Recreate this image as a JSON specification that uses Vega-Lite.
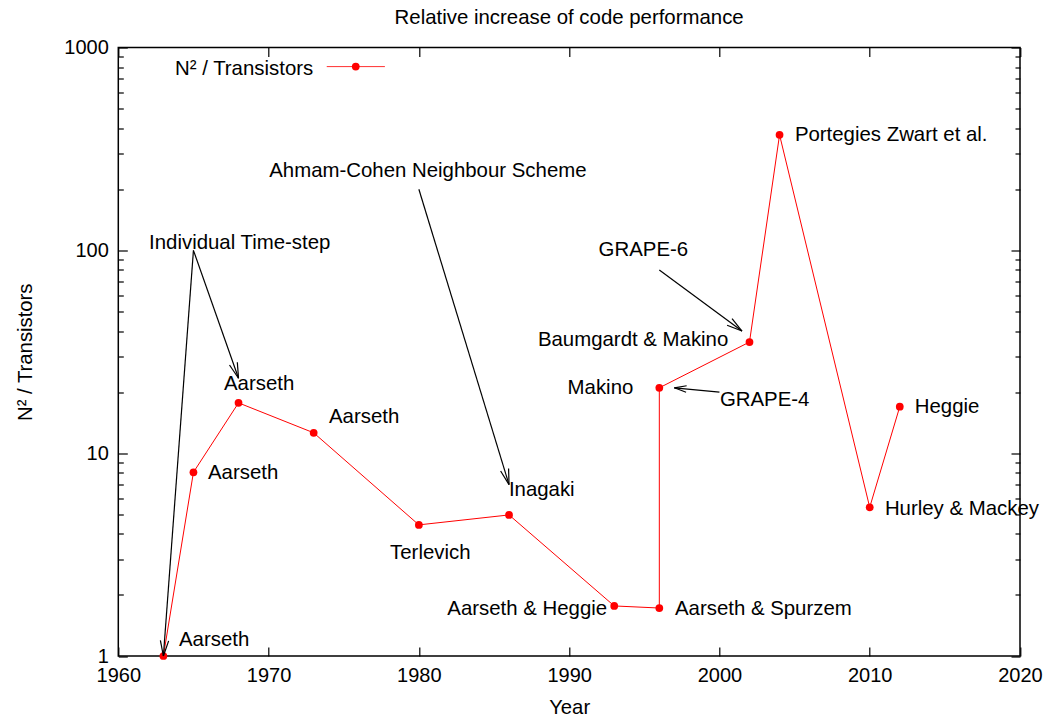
{
  "$schema": "https://vega.github.io/schema/vega-lite/v6.json",
  "width": 901.7,
  "height": 608.5,
  "autosize": "none",
  "padding": {"left": 118.3, "top": 47.5, "right": 26, "bottom": 62},
  "background": "white",
  "config": {
    "font": "Liberation Sans",
    "view": {"stroke": "black", "strokeWidth": 1.5},
    "axis": {"grid": false, "labelFont": "Liberation Sans", "titleFont": "Liberation Sans", "labelColor": "black", "titleColor": "black", "tickColor": "black", "domain": false, "labelFontSize": 20, "titleFontSize": 20.3, "titleFontWeight": "normal", "tickWidth": 1.2, "labelFlush": false},
    "text": {"font": "Liberation Sans", "fontSize": 20.4, "color": "black"}
  },
  "title": {"text": "Relative increase of code performance", "fontSize": 20.4, "fontWeight": "normal", "font": "Liberation Sans", "anchor": "middle", "offset": 9, "color": "black"},
  "datasets": {
    "pts": [
      {"i": 1, "year": 1963, "value": 1.0},
      {"i": 2, "year": 1965, "value": 8.05},
      {"i": 3, "year": 1968, "value": 17.7},
      {"i": 4, "year": 1973, "value": 12.6},
      {"i": 5, "year": 1980, "value": 4.43},
      {"i": 6, "year": 1986, "value": 4.96},
      {"i": 7, "year": 1993, "value": 1.765},
      {"i": 8, "year": 1996, "value": 1.724},
      {"i": 9, "year": 1996, "value": 21.0},
      {"i": 10, "year": 2002, "value": 35.3},
      {"i": 11, "year": 2004, "value": 371},
      {"i": 12, "year": 2010, "value": 5.41},
      {"i": 13, "year": 2012, "value": 16.95}
    ],
    "labelsLeft": [
      {"text": "Aarseth", "x": 1964.04, "y": 1.2},
      {"text": "Aarseth", "x": 1965.97, "y": 7.99},
      {"text": "Aarseth", "x": 1967.03, "y": 22.0},
      {"text": "Aarseth", "x": 1974.02, "y": 15.08},
      {"text": "Inagaki", "x": 1985.99, "y": 6.61},
      {"text": "Aarseth & Spurzem", "x": 1997.04, "y": 1.7},
      {"text": "GRAPE-4", "x": 2000.03, "y": 18.23},
      {"text": "Portegies Zwart et al.", "x": 2005.02, "y": 370.7},
      {"text": "Hurley & Mackey", "x": 2011.01, "y": 5.3},
      {"text": "Heggie", "x": 2013.0, "y": 16.84}
    ],
    "labelsRight": [
      {"text": "Aarseth & Heggie", "x": 1992.53, "y": 1.7},
      {"text": "Makino", "x": 1994.27, "y": 20.9},
      {"text": "Baumgardt & Makino", "x": 2000.59, "y": 36.15}
    ],
    "labelsCenter": [
      {"text": "Terlevich", "x": 1980.76, "y": 3.22},
      {"text": "GRAPE-6", "x": 1994.94, "y": 100.1},
      {"text": "Individual Time-step", "x": 1968.08, "y": 109},
      {"text": "Ahmam-Cohen Neighbour Scheme", "x": 1980.6, "y": 246.9}
    ],
    "segs": [
      {"x": 1965, "y": 100, "x2": 1963, "y2": 1.0},
      {"x": 1963, "y": 1.0, "x2": 1963.35, "y2": 1.187},
      {"x": 1963, "y": 1.0, "x2": 1962.8, "y2": 1.195},
      {"x": 1965, "y": 100, "x2": 1968, "y2": 23.4},
      {"x": 1968, "y": 23.4, "x2": 1967.92, "y2": 28.05},
      {"x": 1968, "y": 23.4, "x2": 1967.4, "y2": 27.2},
      {"x": 1980, "y": 200, "x2": 1986, "y2": 7.0},
      {"x": 1986, "y": 7.0, "x2": 1985.97, "y2": 8.4},
      {"x": 1986, "y": 7.0, "x2": 1985.44, "y2": 8.17},
      {"x": 1996, "y": 80, "x2": 2001.5, "y2": 40},
      {"x": 2001.5, "y": 40, "x2": 2000.84, "y2": 46.1},
      {"x": 2001.5, "y": 40, "x2": 2000.51, "y2": 42.74},
      {"x": 2000, "y": 20, "x2": 1997, "y2": 21},
      {"x": 1997, "y": 21, "x2": 1997.78, "y2": 19.97},
      {"x": 1997, "y": 21, "x2": 1997.82, "y2": 21.49}
    ],
    "legend": [
      {"label": "N² / Transistors", "tx": 1972.97, "ty": 787, "x1": 1973.87, "x2": 1977.74, "px": 1975.8, "py": 805}
    ]
  },
  "layer": [
    {
      "data": {"name": "pts"},
      "mark": {"type": "line", "color": "#ff0000", "strokeWidth": 1},
      "encoding": {
        "x": {"field": "year", "type": "quantitative", "scale": {"domain": [1960, 2020], "nice": false, "zero": false},
              "axis": {"orient": "bottom", "values": [1960, 1970, 1980, 1990, 2000, 2010, 2020], "ticks": false, "labelPadding": 9, "title": "Year", "titlePadding": 12, "format": "d"}},
        "y": {"field": "value", "type": "quantitative", "scale": {"type": "log", "domain": [1, 1000], "nice": false},
              "axis": {"orient": "left", "values": [1, 10, 100, 1000], "ticks": false, "labelPadding": 10, "title": "N² / Transistors", "titlePadding": 28, "format": "d"}},
        "order": {"field": "i", "type": "quantitative"}
      }
    },
    {
      "data": {"name": "pts"},
      "mark": {"type": "point", "filled": true, "shape": "circle", "color": "#ff0000", "size": 60, "opacity": 1},
      "encoding": {
        "x": {"field": "year", "type": "quantitative",
              "axis": {"orient": "top", "values": [1960, 1970, 1980, 1990, 2000, 2010, 2020], "labels": false, "tickSize": -9, "title": null}},
        "y": {"field": "value", "type": "quantitative",
              "axis": {"orient": "right", "values": [1, 10, 100, 1000], "labels": false, "tickSize": -9, "title": null}}
      }
    },
    {
      "data": {"name": "labelsLeft"},
      "mark": {"type": "text", "baseline": "middle", "align": "left"},
      "encoding": {
        "x": {"field": "x", "type": "quantitative",
              "axis": {"orient": "bottom", "values": [1960, 1970, 1980, 1990, 2000, 2010, 2020], "labels": false, "tickSize": -9, "title": null}},
        "y": {"field": "y", "type": "quantitative",
              "axis": {"orient": "left", "values": [1, 10, 100, 1000], "labels": false, "tickSize": -9, "title": null}},
        "text": {"field": "text"}
      }
    },
    {
      "data": {"name": "labelsRight"},
      "mark": {"type": "text", "baseline": "middle", "align": "right"},
      "encoding": {
        "x": {"field": "x", "type": "quantitative", "axis": null},
        "y": {"field": "y", "type": "quantitative", "axis": null},
        "text": {"field": "text"}
      }
    },
    {
      "data": {"name": "labelsCenter"},
      "mark": {"type": "text", "baseline": "middle", "align": "center"},
      "encoding": {
        "x": {"field": "x", "type": "quantitative", "axis": null},
        "y": {"field": "y", "type": "quantitative", "axis": null},
        "text": {"field": "text"}
      }
    },
    {
      "data": {"name": "segs"},
      "mark": {"type": "rule", "color": "black", "strokeWidth": 1.2},
      "encoding": {
        "x": {"field": "x", "type": "quantitative", "axis": null},
        "y": {"field": "y", "type": "quantitative",
              "axis": {"orient": "left", "values": [2, 3, 4, 5, 6, 7, 8, 9, 20, 30, 40, 50, 60, 70, 80, 90, 200, 300, 400, 500, 600, 700, 800, 900], "labels": false, "tickSize": -5, "title": null}},
        "x2": {"field": "x2"},
        "y2": {"field": "y2"}
      }
    },
    {
      "data": {"name": "legend"},
      "mark": {"type": "rule", "color": "#ff3030", "strokeWidth": 1},
      "encoding": {
        "x": {"field": "x1", "type": "quantitative", "axis": null},
        "x2": {"field": "x2"},
        "y": {"field": "py", "type": "quantitative",
              "axis": {"orient": "right", "values": [2, 3, 4, 5, 6, 7, 8, 9, 20, 30, 40, 50, 60, 70, 80, 90, 200, 300, 400, 500, 600, 700, 800, 900], "labels": false, "tickSize": -5, "title": null}}
      }
    },
    {
      "data": {"name": "legend"},
      "mark": {"type": "point", "filled": true, "shape": "circle", "color": "#ff0000", "size": 60, "opacity": 1},
      "encoding": {
        "x": {"field": "px", "type": "quantitative", "axis": null},
        "y": {"field": "py", "type": "quantitative", "axis": null}
      }
    },
    {
      "data": {"name": "legend"},
      "mark": {"type": "text", "baseline": "middle", "align": "right"},
      "encoding": {
        "x": {"field": "tx", "type": "quantitative", "axis": null},
        "y": {"field": "ty", "type": "quantitative", "axis": null},
        "text": {"field": "label"}
      }
    }
  ],
  "resolve": {"axis": {"x": "independent", "y": "independent"}}
}
